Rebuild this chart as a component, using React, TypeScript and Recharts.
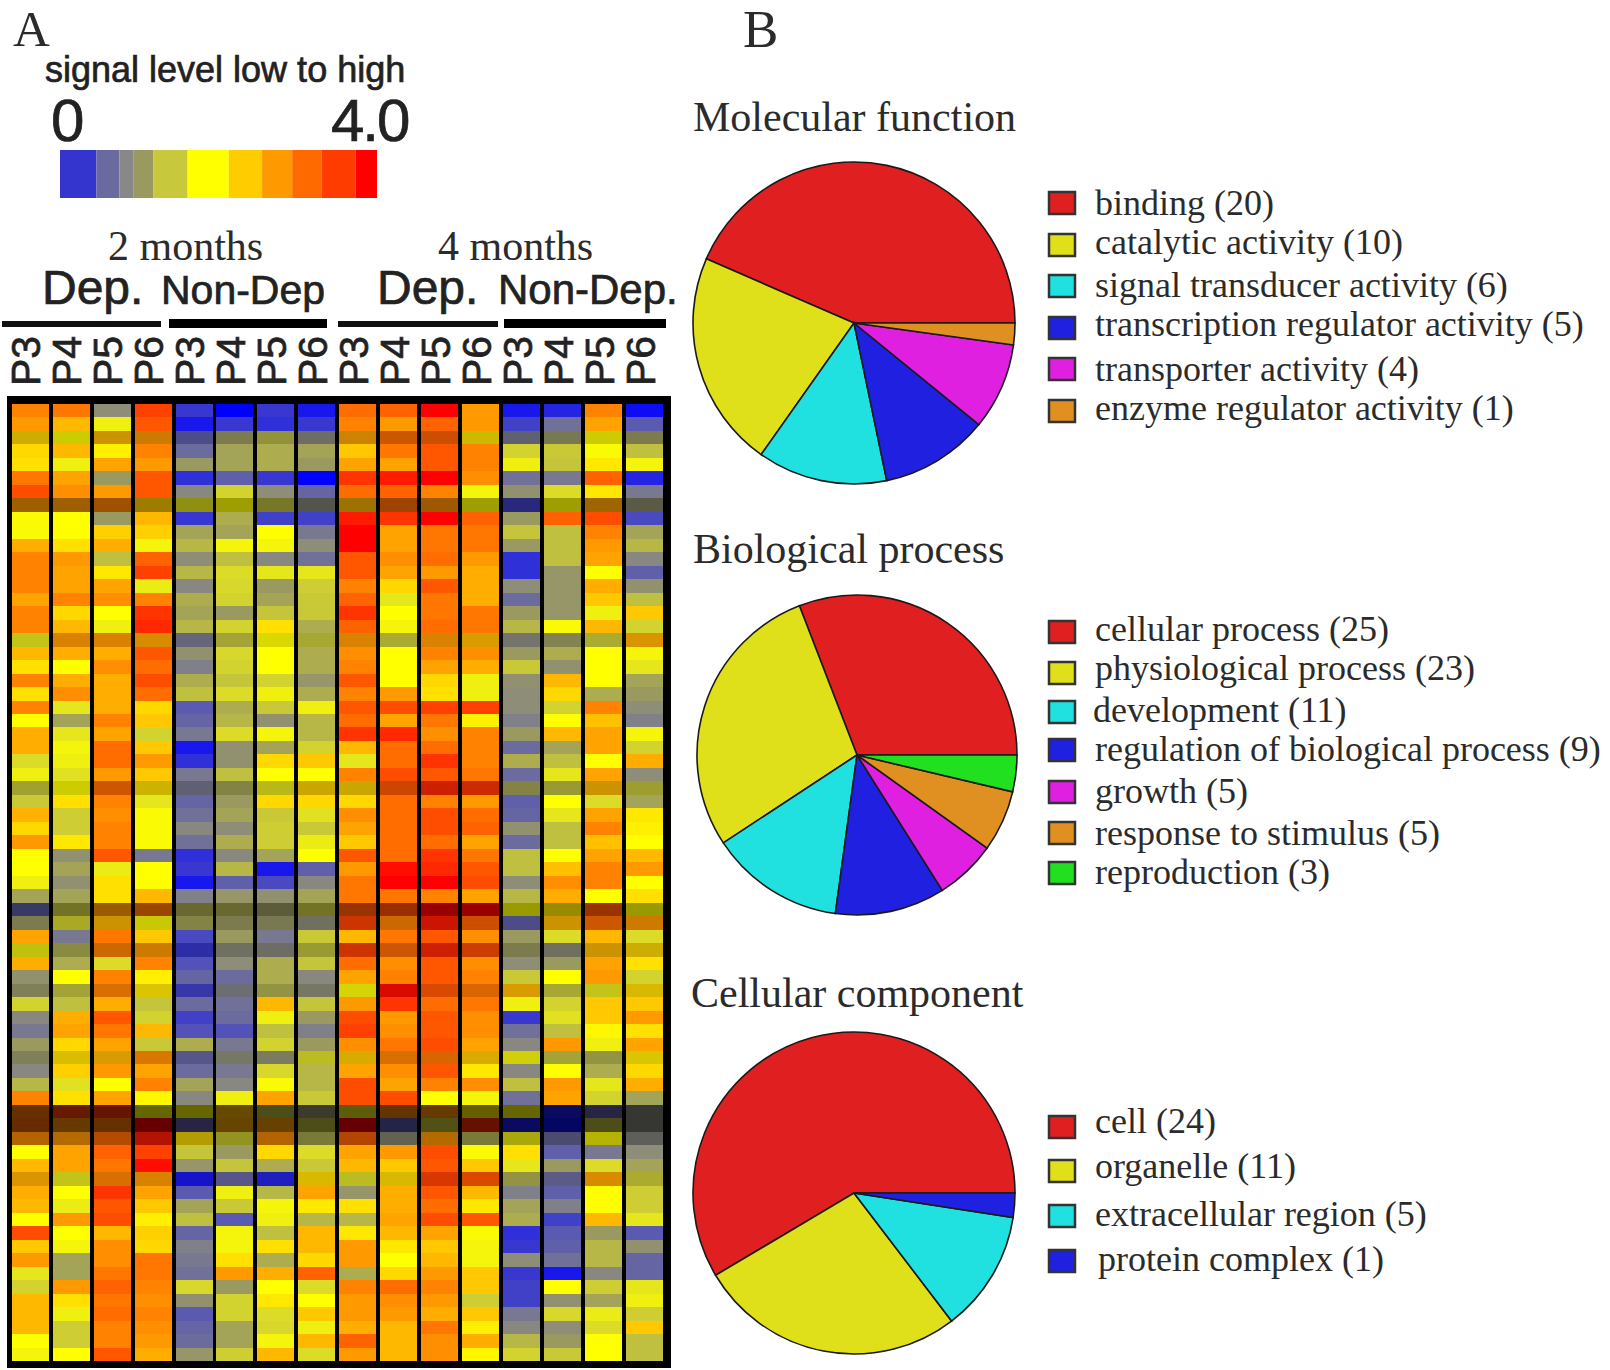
import { Bar, BarChart, Cell, Pie, PieChart, XAxis, YAxis } from 'recharts'

// one list per gene (heatmap row), values are signal level 0-4 for the 16 samples
const g00 = [2.8, 2.9, 0.85, 3.4, 0.25, 0, 0.25, 0.1, 3.0, 3.1, 3.9, 2.6, 0.1, 0.15, 2.8, 0.05]
const g01 = [2.6, 2.3, 1.7, 3.2, 0.1, 0.25, 0.2, 0.25, 2.8, 2.6, 3.1, 2.6, 0.3, 0.65, 2.5, 0.45]
const g02 = [2.1, 1.85, 2.3, 2.6, 0.5, 1.0, 1.15, 0.8, 2.5, 3.0, 3.1, 2.0, 0.7, 0.95, 1.85, 1.0]
const g03 = [2.1, 2.3, 1.95, 2.8, 0.6, 1.05, 1.1, 1.05, 2.2, 2.9, 3.2, 2.8, 1.4, 1.3, 1.8, 1.2]
const g04 = [2.05, 1.7, 2.5, 2.6, 1.0, 1.05, 1.1, 1.0, 2.5, 2.5, 3.2, 2.8, 1.7, 1.25, 2.0, 1.75]
const g05 = [2.9, 2.5, 1.0, 3.2, 0.2, 0.5, 0.25, 0, 3.5, 3.7, 3.9, 2.7, 0.65, 0.7, 3.1, 0.15]
const g06 = [3.3, 2.7, 2.6, 3.2, 0.8, 1.4, 0.85, 0.55, 3.0, 3.1, 2.8, 1.75, 0.9, 1.5, 2.0, 0.7]
const g07 = [2.6, 2.6, 2.8, 2.2, 1.6, 1.85, 1.2, 0.8, 2.3, 3.0, 2.7, 1.85, 0.3, 1.85, 2.5, 0.9]
const g08 = [1.8, 1.85, 1.0, 2.3, 0.25, 1.1, 0.3, 0.3, 3.7, 3.5, 3.9, 3.1, 1.0, 3.1, 3.3, 0.35]
const g09 = [1.8, 1.85, 2.15, 2.15, 1.05, 1.05, 1.85, 0.7, 3.9, 2.5, 2.9, 2.9, 1.25, 1.2, 2.8, 1.05]
const g10 = [2.4, 2.05, 2.4, 1.75, 1.15, 1.75, 1.75, 0.85, 3.9, 2.5, 2.9, 2.9, 1.0, 1.2, 2.6, 1.15]
const g11 = [2.8, 2.6, 1.2, 3.1, 0.85, 1.2, 0.8, 0.65, 3.2, 2.7, 3.0, 2.6, 0.2, 1.2, 2.5, 0.8]
const g12 = [2.8, 2.5, 2.0, 3.4, 1.15, 1.5, 1.6, 1.6, 3.2, 2.5, 2.6, 2.4, 0.2, 0.95, 1.85, 0.5]
const g13 = [2.8, 2.5, 2.5, 1.65, 0.8, 1.45, 1.0, 1.35, 2.8, 2.1, 3.2, 2.4, 0.85, 0.95, 2.4, 0.9]
const g14 = [2.5, 2.8, 2.7, 2.8, 1.1, 1.4, 1.05, 1.3, 3.1, 1.6, 2.9, 2.4, 0.6, 0.95, 2.2, 1.2]
const g15 = [2.8, 2.1, 1.85, 3.5, 1.05, 1.0, 1.25, 1.3, 3.5, 1.85, 2.9, 2.9, 1.0, 0.95, 1.7, 2.2]
const g16 = [2.8, 2.3, 1.7, 3.6, 1.15, 1.4, 2.05, 1.1, 3.1, 1.75, 3.0, 2.9, 1.15, 1.8, 2.3, 1.4]
const g17 = [1.6, 2.6, 2.6, 2.5, 0.7, 1.2, 1.85, 1.25, 2.6, 1.3, 2.6, 2.3, 0.8, 1.0, 1.3, 2.4]
const g18 = [2.3, 2.4, 2.4, 3.2, 0.9, 1.45, 1.85, 1.1, 2.7, 1.85, 2.8, 2.7, 1.0, 1.1, 1.85, 1.75]
const g19 = [2.05, 1.85, 2.7, 3.0, 0.75, 1.4, 1.85, 1.1, 2.8, 1.85, 2.5, 2.4, 1.3, 0.9, 1.85, 1.6]
const g20 = [2.8, 2.4, 2.4, 3.3, 1.1, 1.25, 1.4, 0.95, 3.2, 1.85, 2.1, 1.7, 0.9, 2.3, 1.85, 1.05]
const g21 = [2.05, 2.7, 2.4, 3.0, 1.2, 1.5, 1.7, 1.1, 2.8, 2.6, 2.05, 1.7, 0.85, 2.1, 1.1, 1.0]
const g22 = [2.8, 1.6, 2.4, 2.1, 0.45, 1.1, 1.3, 1.7, 3.2, 3.3, 3.4, 3.4, 0.85, 1.4, 2.8, 0.85]
const g23 = [1.85, 1.05, 2.8, 2.2, 0.55, 1.15, 0.9, 1.15, 3.0, 2.5, 2.9, 1.95, 0.75, 1.85, 2.25, 0.75]
const g24 = [2.4, 1.6, 2.5, 1.4, 0.7, 1.5, 1.75, 1.15, 3.5, 3.6, 2.7, 2.8, 1.0, 2.3, 2.5, 1.75]
const g25 = [2.4, 1.75, 3.0, 2.2, 0.1, 0.9, 1.05, 1.4, 2.3, 3.0, 3.0, 2.8, 0.6, 1.05, 2.5, 1.4]
const g26 = [1.5, 1.7, 3.0, 2.6, 0.2, 0.9, 2.1, 2.2, 1.6, 3.0, 3.5, 2.8, 1.1, 1.2, 1.85, 2.4]
const g27 = [1.7, 1.55, 2.6, 2.2, 0.7, 1.2, 1.85, 1.85, 2.8, 3.3, 3.2, 2.9, 0.6, 1.6, 2.5, 0.85]
const g28 = [1.3, 1.85, 3.0, 2.05, 0.7, 1.05, 1.6, 2.15, 2.15, 3.2, 3.6, 3.5, 1.05, 1.2, 2.3, 1.25]
const g29 = [1.3, 2.05, 2.8, 1.6, 0.55, 1.0, 2.1, 2.1, 2.1, 3.0, 2.8, 2.6, 0.5, 1.85, 1.5, 1.05]
const g30 = [2.35, 1.35, 2.7, 1.8, 0.65, 1.05, 1.3, 1.55, 2.7, 3.0, 3.3, 3.0, 0.55, 1.6, 2.5, 2.0]
const g31 = [2.1, 1.35, 2.8, 1.8, 0.8, 0.85, 1.35, 1.3, 2.5, 3.0, 3.3, 3.1, 0.9, 1.2, 2.8, 1.95]
const g32 = [2.6, 2.0, 2.8, 1.8, 0.65, 1.1, 1.35, 1.65, 2.2, 3.0, 3.0, 2.5, 0.6, 1.2, 2.25, 1.85]
const g33 = [1.85, 0.9, 3.2, 0.7, 0.2, 0.8, 1.05, 1.85, 3.2, 3.0, 3.5, 2.9, 1.2, 1.85, 2.5, 2.3]
const g34 = [1.85, 1.05, 1.65, 1.85, 0.25, 1.15, 0.1, 0.5, 2.6, 3.8, 3.6, 3.2, 1.2, 2.25, 2.8, 2.6]
const g35 = [1.7, 0.9, 2.05, 1.85, 0.1, 0.5, 0.35, 0.8, 2.9, 3.9, 3.9, 3.3, 0.85, 2.7, 2.8, 1.85]
const g36 = [1.05, 1.05, 2.05, 2.3, 0.75, 0.95, 0.9, 1.05, 2.9, 2.9, 2.8, 2.5, 1.15, 2.4, 1.85, 2.05]
const g37 = [0.5, 1.2, 2.6, 2.9, 1.1, 1.1, 1.0, 1.2, 3.2, 3.3, 3.9, 3.9, 1.85, 2.0, 3.2, 1.85]
const g38 = [1.0, 1.4, 2.3, 1.8, 1.05, 1.0, 0.95, 0.85, 3.4, 2.8, 3.7, 3.1, 0.5, 2.3, 3.0, 2.6]
const g39 = [2.5, 0.7, 2.9, 2.2, 0.35, 1.0, 0.7, 1.3, 2.3, 2.9, 3.2, 2.7, 1.0, 1.5, 2.3, 1.5]
const g40 = [1.7, 1.1, 2.8, 2.6, 0.25, 0.85, 0.8, 1.2, 3.4, 3.0, 3.6, 3.3, 1.0, 0.85, 2.3, 2.1]
const g41 = [2.4, 1.1, 1.5, 2.8, 0.4, 0.85, 1.1, 1.25, 3.0, 2.7, 3.2, 2.7, 0.85, 1.0, 2.5, 2.05]
const g42 = [0.9, 1.85, 2.8, 1.95, 0.55, 0.6, 1.1, 0.8, 2.5, 2.8, 3.2, 2.8, 1.3, 1.85, 2.6, 1.4]
const g43 = [0.95, 1.2, 2.8, 2.0, 0.3, 0.75, 1.1, 0.85, 1.8, 3.8, 3.2, 2.9, 2.3, 1.25, 1.6, 2.1]
const g44 = [1.4, 1.2, 2.4, 1.25, 0.6, 0.65, 2.3, 1.25, 2.6, 3.5, 3.0, 2.9, 1.7, 1.4, 2.2, 2.2]
const g45 = [0.8, 2.4, 3.2, 1.4, 0.3, 0.6, 1.7, 1.0, 3.3, 2.6, 3.2, 2.7, 0.25, 1.55, 2.2, 2.6]
const g46 = [0.7, 2.5, 2.9, 2.3, 0.4, 0.4, 1.2, 0.75, 3.4, 2.7, 3.2, 2.7, 0.65, 1.2, 1.9, 2.05]
const g47 = [1.0, 2.1, 2.5, 1.3, 1.1, 0.7, 1.4, 1.0, 2.7, 2.9, 3.3, 2.5, 0.8, 2.6, 1.7, 2.5]
const g48 = [0.95, 2.05, 2.3, 2.7, 0.55, 0.85, 0.9, 1.5, 2.2, 2.8, 2.9, 2.2, 1.75, 1.2, 1.1, 2.0]
const g49 = [0.8, 2.15, 2.6, 2.5, 0.6, 0.7, 1.45, 1.15, 2.5, 2.7, 3.2, 2.0, 0.8, 1.85, 1.1, 2.1]
const g50 = [1.15, 1.55, 1.85, 2.8, 1.05, 0.8, 1.8, 1.15, 3.3, 2.5, 2.8, 2.7, 1.2, 2.6, 1.6, 2.4]
const g51 = [2.8, 2.05, 2.5, 1.9, 0.8, 1.7, 2.5, 1.3, 3.3, 3.3, 1.85, 1.75, 0.65, 2.5, 1.4, 1.05]
const g52 = [2.9, 3.4, 3.5, 1.85, 1.85, 2.3, 1.2, 0.9, 1.6, 2.8, 2.7, 2.0, 1.85, 0.1, 0.5, 0.8]
const g53 = [3.0, 2.7, 2.9, 3.9, 0.5, 2.4, 2.5, 1.2, 3.9, 0.45, 1.3, 3.6, 0.1, 0.05, 1.2, 0.8]
const g54 = [2.7, 2.6, 3.0, 3.7, 2.05, 1.4, 2.7, 1.1, 3.1, 0.85, 2.6, 1.1, 1.7, 0.6, 1.85, 0.8]
const g55 = [1.85, 2.5, 3.1, 3.4, 1.25, 1.0, 2.1, 1.5, 2.5, 2.6, 3.3, 1.8, 2.05, 0.5, 0.7, 0.85]
const g56 = [2.3, 2.5, 2.9, 3.8, 0.95, 1.25, 1.1, 1.3, 2.3, 2.2, 3.2, 2.2, 1.6, 1.0, 1.5, 1.05]
const g57 = [2.4, 1.6, 2.8, 2.6, 0.1, 0.55, 0.15, 2.1, 1.5, 2.1, 3.4, 3.2, 1.1, 0.6, 2.5, 1.3]
const g58 = [2.4, 1.85, 3.5, 2.5, 0.45, 1.7, 1.15, 2.5, 0.95, 2.4, 3.2, 2.3, 0.75, 0.5, 1.85, 1.35]
const g59 = [2.3, 1.65, 3.2, 2.2, 1.05, 1.3, 1.75, 2.0, 2.05, 2.4, 3.0, 2.0, 1.05, 0.75, 1.85, 1.35]
const g60 = [1.85, 2.6, 3.3, 1.95, 1.2, 0.45, 1.7, 1.15, 1.15, 2.5, 3.3, 3.2, 1.1, 0.3, 2.3, 1.6]
const g61 = [3.3, 1.85, 2.3, 2.15, 0.55, 1.75, 1.2, 2.3, 2.0, 2.3, 2.5, 1.8, 0.2, 0.45, 1.0, 0.45]
const g62 = [2.2, 1.75, 2.7, 2.1, 0.75, 1.75, 2.05, 2.3, 2.6, 2.0, 2.2, 1.75, 0.25, 0.5, 1.15, 0.9]
const g63 = [2.6, 1.05, 2.7, 2.9, 0.7, 2.05, 1.1, 2.1, 2.6, 1.85, 2.3, 1.75, 0.85, 0.65, 1.15, 0.55]
const g64 = [1.6, 1.05, 2.9, 2.9, 0.65, 2.6, 2.4, 3.1, 1.1, 2.1, 2.6, 2.2, 0.25, 0.1, 0.8, 0.55]
const g65 = [1.4, 2.6, 3.1, 2.8, 1.45, 1.0, 1.85, 1.5, 2.8, 3.0, 2.8, 2.2, 0.3, 1.85, 1.35, 1.6]
const g66 = [2.3, 2.05, 2.9, 2.7, 0.9, 1.4, 2.0, 1.85, 2.6, 2.7, 2.6, 1.35, 0.3, 0.9, 1.05, 1.7]
const g67 = [2.3, 1.7, 3.0, 2.8, 0.45, 1.4, 1.5, 2.2, 2.6, 2.6, 2.4, 2.2, 0.7, 1.45, 1.65, 1.35]
const g68 = [2.3, 1.35, 2.8, 2.7, 0.55, 1.05, 1.45, 1.7, 2.4, 2.3, 2.9, 1.95, 0.8, 0.85, 1.5, 2.2]
const g69 = [1.85, 1.35, 2.8, 2.6, 0.6, 1.05, 1.75, 2.3, 3.1, 2.3, 2.7, 2.4, 1.15, 1.0, 1.85, 1.2]
const g70 = [1.75, 1.85, 3.2, 2.4, 0.95, 1.35, 2.3, 1.5, 2.6, 2.3, 2.7, 1.9, 1.4, 1.3, 1.85, 1.2]

const genes = [
  g00, g01, g02, g03, g04, g05, g06, g07, g08, g09, g10, g11, g12, g13, g14, g15, g16, g17,
  g18, g19, g20, g21, g22, g23, g24, g25, g26, g27, g28, g29, g30, g31, g32, g33, g34, g35,
  g36, g37, g38, g39, g40, g41, g42, g43, g44, g45, g46, g47, g48, g49, g50, g51, g52, g53,
  g54, g55, g56, g57, g58, g59, g60, g61, g62, g63, g64, g65, g66, g67, g68, g69, g70
]

// confidence of each gene row, low confidence rows are drawn darker
const geneTrust = [
  1, 1, 0.8, 1, 1, 1, 1, 0.62, 1, 1, 1, 1, 1, 1, 1, 1, 1, 0.85, 1, 1, 1, 1, 1, 1, 1, 1, 1, 1,
  0.8, 1, 1, 1, 1, 1, 1, 1, 1, 0.6, 0.8, 1, 0.8, 1, 1, 0.85, 1, 1, 1, 1, 0.85, 1, 1, 1, 0.4,
  0.4, 0.7, 1, 1, 0.85, 1, 1, 1, 1, 1, 1, 1, 1, 1, 1, 1, 1, 1
]

const sampleNames = ['P3', 'P4', 'P5', 'P6']
const sampleGroups = ['2m Dep', '2m NonDep', '4m Dep', '4m NonDep']
const samples = sampleGroups.flatMap((g) => sampleNames.map((s) => `${g} ${s}`))

const scaleStops = [0.46, 0.29, 0.18, 0.25, 0.43, 0.52, 0.42, 0.38, 0.37, 0.43, 0.27]

const functionNames = ['binding', 'catalytic activity', 'signal transducer activity', 'transcription regulator activity', 'transporter activity', 'enzyme regulator activity']
const functionCounts = [20, 10, 6, 5, 4, 1]
const processNames = ['cellular process', 'physiological process', 'development', 'regulation of biological process', 'growth', 'response to stimulus', 'reproduction']
const processCounts = [25, 23, 11, 9, 5, 5, 3]
const componentNames = ['cell', 'organelle', 'extracellular region', 'protein complex']
const componentCounts = [24, 11, 5, 1]

const scaleColors = ['#3434cf', '#6a6a9e', '#888888', '#9a9a60', '#c8c83c', '#ffff00', '#ffcc00', '#ff9900', '#ff6a00', '#ff3c00', '#ff0000']
const pieRed = '#e02020'
const pieYellow = '#e0e01a'
const pieCyan = '#20e0e0'
const pieBlue = '#2020e0'
const pieMagenta = '#e020e0'
const pieOrange = '#e09020'
const pieGreen = '#20e020'

const ramp: [number, number[]][] = [
  [0, [0, 0, 255]],
  [0.2, [48, 48, 216]],
  [0.45, [90, 90, 176]],
  [0.65, [112, 112, 152]],
  [0.8, [136, 136, 128]],
  [1.0, [154, 154, 96]],
  [1.2, [192, 192, 64]],
  [1.5, [220, 220, 40]],
  [1.7, [240, 240, 16]],
  [1.85, [255, 255, 0]],
  [2.1, [255, 216, 0]],
  [2.3, [255, 184, 0]],
  [2.6, [255, 153, 0]],
  [2.9, [255, 119, 0]],
  [3.3, [255, 77, 0]],
  [3.6, [255, 40, 0]],
  [3.9, [255, 0, 0]],
  [4, [255, 0, 0]]
]

function signalColor(value: number, trust: number) {
  let i = 0
  while (i < ramp.length - 2 && value > ramp[i + 1][0]) i++
  const [a, ca] = ramp[i]
  const [b, cb] = ramp[i + 1]
  const t = Math.min(1, Math.max(0, (value - a) / (b - a)))
  const c = ca.map((v, k) => Math.round((v + (cb[k] - v) * t) * trust))
  return `rgb(${c[0]},${c[1]},${c[2]})`
}

const heatData = samples.map((sample) => {
  const row: Record<string, string | number> = { sample }
  genes.forEach((_, k) => {
    row[`g${k}`] = 1
  })
  return row
})

const scaleData = [
  scaleStops.reduce<Record<string, string | number>>(
    (row, w, i) => {
      row[`s${i}`] = w
      return row
    },
    { name: 'signal' }
  )
]

const INK = '#2b2b2b'
const SERIF = '"Liberation Serif", serif'
const SANS = '"Liberation Sans", sans-serif'
// the sans labels in the figure are heavier than the plain font
const sansText = { fontFamily: SANS, fill: '#222', stroke: '#222', strokeWidth: 0.7 }

function SampleTick({ x, y, payload }: any) {
  const label = String(payload.value).split(' ').pop()
  return (
    <text
      transform={`translate(${x + 10},${y - 16}) rotate(-90)`}
      fontSize={41}
      {...sansText}
    >
      {label}
    </text>
  )
}

function GoPie({ names, counts, colors, cx, cy, r, title, titleX, titleY, labelYs, boxYs, labelXs }: any) {
  const data = names.map((name: string, i: number) => ({ name, count: counts[i] }))
  return (
    <>
      <div style={{ position: 'absolute', left: cx - r - 4, top: cy - r - 4 }}>
        <PieChart width={2 * r + 8} height={2 * r + 8} margin={{ top: 0, right: 0, bottom: 0, left: 0 }}>
          <Pie
            data={data}
            dataKey="count"
            nameKey="name"
            cx={r + 4}
            cy={r + 4}
            outerRadius={r}
            startAngle={0}
            endAngle={360}
            stroke="#1a1a1a"
            strokeWidth={1.6}
            isAnimationActive={false}
          >
            {data.map((d: any, i: number) => (
              <Cell key={d.name} fill={colors[i]} />
            ))}
          </Pie>
        </PieChart>
      </div>
      <svg width={1610} height={1370} style={{ position: 'absolute', left: 0, top: 0, pointerEvents: 'none' }}>
        <text x={titleX} y={titleY} fontFamily={SERIF} fontSize={42} fill={INK}>
          {title}
        </text>
        {data.map((d: any, i: number) => (
          <g key={d.name}>
            <rect x={1049} y={boxYs[i] - 11} width={26} height={22} fill={colors[i]} stroke="#333" strokeWidth={2.5} />
            <text x={labelXs?.[i] ?? 1095} y={labelYs[i]} fontFamily={SERIF} fontSize={36} fill={INK}>
              {`${d.name} (${d.count})`}
            </text>
          </g>
        ))}
      </svg>
    </>
  )
}

export default function App() {
  return (
    <div style={{ position: 'absolute', left: 0, top: 0, width: 1610, height: 1370, background: '#fff', overflow: 'hidden' }}>
      <div style={{ position: 'absolute', left: 7, top: 396, width: 664, height: 972, background: '#000' }} />

      <div style={{ position: 'absolute', left: 0, top: 0 }}>
        <BarChart
          width={680}
          height={1370}
          data={heatData}
          margin={{ top: 344, right: 15, bottom: 9, left: 10 }}
          barCategoryGap={1.75}
        >
          <XAxis
            dataKey="sample"
            orientation="top"
            height={60}
            interval={0}
            axisLine={false}
            tickLine={false}
            tickSize={0}
            tick={<SampleTick />}
          />
          <YAxis hide reversed type="number" domain={[0, genes.length]} allowDataOverflow />
          {genes.map((gene, k) => (
            <Bar key={k} dataKey={`g${k}`} stackId="genes" isAnimationActive={false} shapeRendering="crispEdges">
              {gene.map((v, i) => (
                <Cell key={i} fill={signalColor(v, geneTrust[k])} shapeRendering="crispEdges" />
              ))}
            </Bar>
          ))}
        </BarChart>
      </div>

      <div style={{ position: 'absolute', left: 60, top: 150 }}>
        <BarChart
          width={317}
          height={48}
          layout="vertical"
          data={scaleData}
          margin={{ top: 0, right: 0, bottom: 0, left: 0 }}
          barCategoryGap={0}
        >
          <XAxis hide type="number" domain={[0, 4]} />
          <YAxis hide type="category" dataKey="name" />
          {scaleStops.map((_, i) => (
            <Bar key={i} dataKey={`s${i}`} stackId="scale" fill={scaleColors[i]} isAnimationActive={false} />
          ))}
        </BarChart>
      </div>

      <svg width={1610} height={1370} style={{ position: 'absolute', left: 0, top: 0, pointerEvents: 'none' }}>
        <text x={13} y={46} fontFamily={SERIF} fontSize={51} fill={INK}>A</text>
        <text x={743} y={47} fontFamily={SERIF} fontSize={53} fill={INK}>B</text>
        <text x={45} y={82} fontSize={36} {...sansText}>signal level low to high</text>
        <text x={51} y={141} fontSize={60} {...sansText}>0</text>
        <text x={331} y={141} fontSize={60} letterSpacing={-2} {...sansText}>4.0</text>
        <text x={108} y={260} fontFamily={SERIF} fontSize={42} fill={INK}>2 months</text>
        <text x={438} y={260} fontFamily={SERIF} fontSize={42} fill={INK}>4 months</text>
        <text x={42} y={304} fontSize={48} {...sansText}>Dep.</text>
        <text x={377} y={304} fontSize={48} {...sansText}>Dep.</text>
        <text x={161} y={304} fontSize={41} {...sansText}>Non-Dep</text>
        <text x={498} y={304} fontSize={42} {...sansText}>Non-Dep.</text>
        <rect x={2} y={321} width={159} height={6} fill="#111" />
        <rect x={169} y={319} width={158} height={9} fill="#000" />
        <rect x={338} y={321} width={160} height={6} fill="#111" />
        <rect x={504} y={319} width={162} height={9} fill="#000" />
      </svg>

      <GoPie
        names={functionNames}
        counts={functionCounts}
        colors={[pieRed, pieYellow, pieCyan, pieBlue, pieMagenta, pieOrange]}
        cx={854}
        cy={323}
        r={161}
        title="Molecular function"
        titleX={693}
        titleY={131}
        labelYs={[215, 254, 297, 336, 381, 420]}
        boxYs={[203, 245, 286, 328, 369, 411]}
      />
      <GoPie
        names={processNames}
        counts={processCounts}
        colors={[pieRed, pieYellow, pieCyan, pieBlue, pieMagenta, pieOrange, pieGreen]}
        cx={857}
        cy={755}
        r={160}
        title="Biological process"
        titleX={693}
        titleY={563}
        labelYs={[641, 680, 722, 761, 803, 845, 884]}
        boxYs={[632, 673, 712, 750, 792, 833, 873]}
        labelXs={[1095, 1095, 1093, 1095, 1095, 1095, 1095]}
      />
      <GoPie
        names={componentNames}
        counts={componentCounts}
        colors={[pieRed, pieYellow, pieCyan, pieBlue]}
        cx={854}
        cy={1193}
        r={161}
        title="Cellular component"
        titleX={691}
        titleY={1007}
        labelYs={[1133, 1178, 1226, 1271]}
        boxYs={[1127, 1171, 1216, 1261]}
        labelXs={[1095, 1095, 1095, 1098]}
      />
    </div>
  )
}
